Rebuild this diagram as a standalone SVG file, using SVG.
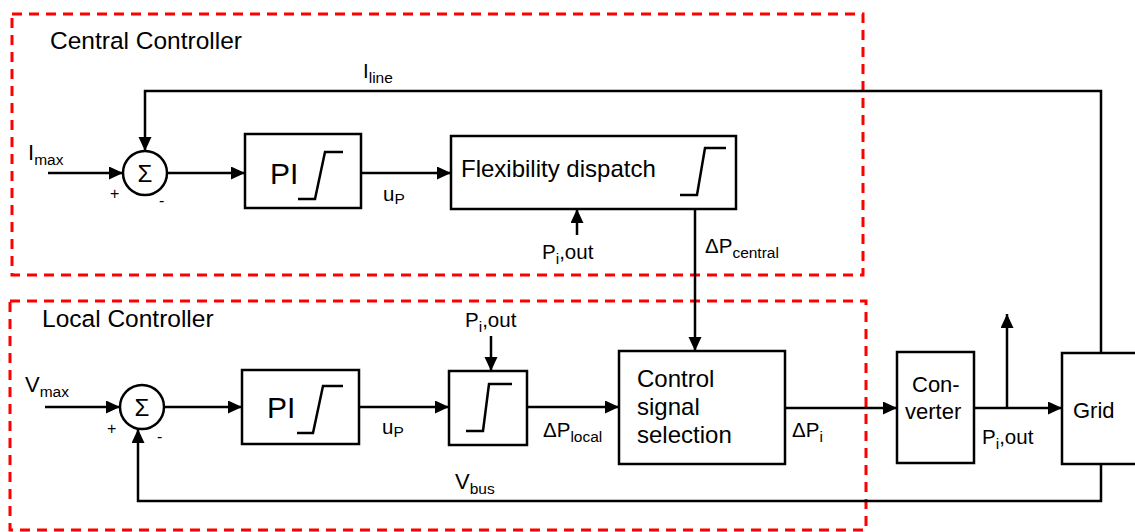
<svg xmlns="http://www.w3.org/2000/svg" width="1135" height="532" viewBox="0 0 1135 532">
<style>
text{font-family:"Liberation Sans",Arial,sans-serif;fill:#000}
.t24{font-size:24px}
.t20{font-size:20.5px}
.t22{font-size:22px}
.pi{font-size:30px}
.sub{font-size:15.5px}
.box{fill:#fff;stroke:#000;stroke-width:2.5}
.ln{fill:none;stroke:#000;stroke-width:2.5}
.arr{fill:none;stroke:#000;stroke-width:2.5;marker-end:url(#ah)}
.dash{fill:none;stroke:#f00;stroke-width:3;stroke-dasharray:10 7}
.sat{fill:none;stroke:#000;stroke-width:2.5}
</style>
<defs>
<marker id="ah" markerUnits="userSpaceOnUse" markerWidth="15" markerHeight="14" refX="14" refY="6.5" orient="auto">
<path d="M0,0 L14,6.5 L0,13 z" fill="#000"/>
</marker>
</defs>
<rect width="1135" height="532" fill="#fff"/>

<g id="central-controller">
<rect class="dash" x="12" y="14" width="851" height="261"/>
<text x="50" y="49" font-size="24.5">Central Controller</text>
</g>
<g id="local-controller">
<rect class="dash" x="10" y="301" width="856" height="229"/>
<text x="42" y="327" font-size="24.5">Local Controller</text>
</g>

<g id="connectors">
<polyline class="arr" points="1101,353 1101,91 145,91 145,151"/>
<line class="arr" x1="48" y1="173" x2="123" y2="173"/>
<line class="arr" x1="167" y1="173" x2="245" y2="173"/>
<line class="arr" x1="361" y1="173" x2="451" y2="173"/>
<line class="arr" x1="577" y1="235" x2="577" y2="209"/>
<line class="arr" x1="695" y1="209" x2="695" y2="351"/>
<line class="arr" x1="45" y1="407" x2="120" y2="407"/>
<line class="arr" x1="164" y1="407" x2="242" y2="407"/>
<line class="arr" x1="359" y1="407" x2="449" y2="407"/>
<line class="arr" x1="491" y1="336" x2="491" y2="371"/>
<line class="arr" x1="527" y1="407" x2="619" y2="407"/>
<line class="arr" x1="785" y1="408" x2="897" y2="408"/>
<line class="arr" x1="974" y1="408" x2="1062" y2="408"/>
<line class="arr" x1="1007" y1="408" x2="1007" y2="314"/>
<polyline class="arr" points="1101,464 1101,501 138,501 138,429"/>
</g>

<g id="sum1">
<circle cx="145" cy="173" r="22" class="box"/>
<text x="145" y="182" class="t24" text-anchor="middle">Σ</text>
<text x="110" y="199" font-size="16">+</text>
<text x="159" y="206" font-size="16">-</text>
</g>
<g id="pi1">
<rect class="box" x="245" y="134" width="116" height="74"/>
<text class="pi" x="270" y="184">PI</text>
<polyline class="sat" points="298,199 315,199 325,152 343,152"/>
</g>
<g id="flex">
<rect class="box" x="451" y="136" width="285" height="73"/>
<text class="t24" x="461" y="177">Flexibility dispatch</text>
<polyline class="sat" points="680,195 697,195 705,148 726,148"/>
</g>
<g id="sum2">
<circle cx="142" cy="407" r="22" class="box"/>
<text x="142" y="416" class="t24" text-anchor="middle">Σ</text>
<text x="107" y="434" font-size="16">+</text>
<text x="157" y="442" font-size="16">-</text>
</g>
<g id="pi2">
<rect class="box" x="242" y="370" width="117" height="74"/>
<text class="pi" x="267" y="418">PI</text>
<polyline class="sat" points="297,433 313,433 323,386 343,386"/>
</g>
<g id="sat">
<rect class="box" x="449" y="371" width="78" height="74"/>
<polyline class="sat" points="466,431 483,431 489,384 512,384"/>
</g>
<g id="selection">
<rect class="box" x="619" y="351" width="166" height="113"/>
<text class="t24" x="637" y="387">Control</text>
<text class="t24" x="637" y="415">signal</text>
<text class="t24" x="637" y="443">selection</text>
</g>
<g id="converter">
<rect class="box" x="897" y="352" width="77" height="111"/>
<text class="t22" x="912" y="392">Con-</text>
<text class="t22" x="905" y="419">verter</text>
</g>
<g id="grid">
<rect class="box" x="1062" y="353" width="80" height="111"/>
<text class="t22" x="1073" y="418">Grid</text>
</g>

<g id="labels">
<text class="t22" x="28" y="160">I<tspan class="sub" dy="5" font-size="17">max</tspan></text>
<text class="t20" x="363" y="78">I<tspan class="sub" dy="5">line</tspan></text>
<text class="t20" x="383" y="201">u<tspan class="sub" dy="3">P</tspan></text>
<text class="t20" x="542" y="259">P<tspan class="sub" dy="5">i</tspan><tspan dy="-5">,out</tspan></text>
<text class="t20" x="705" y="253">ΔP<tspan class="sub" dy="5">central</tspan></text>
<text class="t22" x="25" y="392">V<tspan class="sub" dy="5" font-size="17">max</tspan></text>
<text class="t20" x="382" y="434">u<tspan class="sub" dy="3">P</tspan></text>
<text class="t20" x="465" y="327">P<tspan class="sub" dy="5">i</tspan><tspan dy="-5">,out</tspan></text>
<text class="t20" x="543" y="437">ΔP<tspan class="sub" dy="5">local</tspan></text>
<text class="t20" x="792" y="437">ΔP<tspan class="sub" dy="5">i</tspan></text>
<text class="t20" x="982" y="444">P<tspan class="sub" dy="5">i</tspan><tspan dy="-5">,out</tspan></text>
<text class="t22" x="455" y="489">V<tspan class="sub" dy="5">bus</tspan></text>
</g>
</svg>
